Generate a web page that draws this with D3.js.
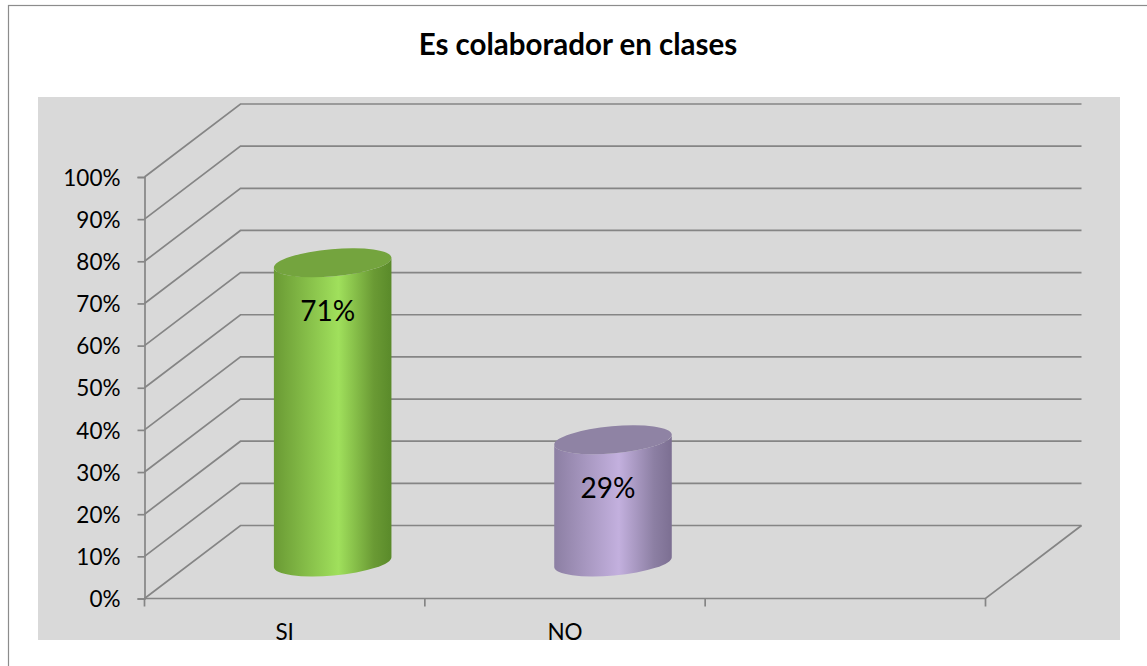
<!DOCTYPE html>
<html>
<head>
<meta charset="utf-8">
<script src="https://cdn.jsdelivr.net/npm/d3@7"></script>
<style>
  body { margin: 0; background: #fff; }
  text { font-family: Lato, "Open Sans", sans-serif; }
</style>
</head>
<body>
<script>
// data
const categories = ['SI', 'NO', ''];
const values = [0.71, 0.29, null];
const labels = ['71%', '29%', ''];
const yTicks = [0, 0.1, 0.2, 0.3, 0.4, 0.5, 0.6, 0.7, 0.8, 0.9, 1];
const title = 'Es colaborador en clases';

const svgWidth = 1147;
const svgHeight = 666;
const plot = { left: 38, top: 97, right: 1120, bottom: 640 };
const depth = { dx: 96, dy: -73 };

const palette = {
    SI: { edge: '#6a9a34', mid: '#a0e05c', dark: '#5a8a2a', top: '#74a43e' },
    NO: { edge: '#8c7fa3', mid: '#c3b0de', dark: '#7c6f92', top: '#8f83a4' }
};

function translate(x, y) {
    return 'translate(' + x + ',' + y + ')';
}

const svg = d3.select('body').append('svg')
    .attr('width', svgWidth)
    .attr('height', svgHeight);

svg.append('rect')
    .attr('x', 8.5).attr('y', 5.5)
    .attr('width', 1160).attr('height', 680)
    .attr('fill', '#fff')
    .attr('stroke', '#8c8c8c')
    .attr('stroke-width', 1.2);

svg.append('text')
    .attr('x', 578).attr('y', 55)
    .attr('text-anchor', 'middle')
    .attr('font-weight', 'bold')
    .attr('font-size', 29.5)
    .text(title);

svg.append('rect')
    .attr('x', plot.left).attr('y', plot.top)
    .attr('width', plot.right - plot.left)
    .attr('height', plot.bottom - plot.top)
    .attr('fill', '#d9d9d9');

svg.append('clipPath').attr('id', 'plotClip')
    .append('rect')
    .attr('x', plot.left).attr('y', plot.top)
    .attr('width', plot.right - plot.left)
    .attr('height', plot.bottom - plot.top);

const xScale = d3.scaleBand()
    .domain(categories)
    .range([144.5, 985.5])
    .paddingInner(0).paddingOuter(0);

const yScale = d3.scaleLinear()
    .domain([0, 1])
    .range([598.5, 177]);

const grid = svg.append('g')
    .attr('fill', 'none')
    .attr('stroke', '#858585')
    .attr('stroke-width', 1.7);

const x0 = xScale.range()[0];
const x1 = xScale.range()[1];

// back wall + side wall lines
yTicks.forEach(t => {
    const yf = yScale(t);
    grid.append('path')
        .attr('d', 'M' + x0 + ',' + yf + 'L' + (x0 + depth.dx) + ',' + (yf + depth.dy) +
            'L' + (x1 + depth.dx) + ',' + (yf + depth.dy));
});

// floor front & right edge
grid.append('path')
    .attr('d', 'M' + x0 + ',' + yScale(0) + 'L' + x1 + ',' + yScale(0) +
        'L' + (x1 + depth.dx) + ',' + (yScale(0) + depth.dy));

// y axis
const yAxis = svg.append('g')
    .attr('transform', translate(x0, 0))
    .call(d3.axisLeft(yScale).tickValues(yTicks).tickFormat(d3.format('.0%')).tickSize(7).tickPadding(17));
yAxis.select('.domain').attr('stroke', '#858585').attr('stroke-width', 1.7);
yAxis.selectAll('.tick line').attr('stroke', '#858585').attr('stroke-width', 1.7);
yAxis.selectAll('.tick text')
    .attr('font-size', 22.5)
    .attr('fill', '#000')
    .attr('dy', '0.36em')
    .style('font-family', 'Lato, sans-serif');

// category boundary ticks
const bounds = categories.map(c => xScale(c)).concat([x1]);
svg.append('g').selectAll('line').data(bounds).enter()
    .append('line')
    .attr('x1', d => d).attr('x2', d => d)
    .attr('y1', yScale(0)).attr('y2', yScale(0) + 8)
    .attr('stroke', '#858585').attr('stroke-width', 1.7);

// category labels (clipped by the plot area, as in the original)
svg.append('g').attr('clip-path', 'url(#plotClip)')
    .selectAll('text').data(categories).enter()
    .append('text')
    .attr('x', d => xScale(d) + xScale.bandwidth() / 2)
    .attr('y', 639.5)
    .attr('text-anchor', 'middle')
    .attr('font-size', 22.5)
    .text(d => d);

// cylinders
const defs = svg.append('defs');
const rx = 59, ry = 13.5, rot = -5;
const rad = rot * Math.PI / 180;
const ex = rx * Math.cos(rad), ey = rx * Math.sin(rad);

const bars = categories.map((c, i) => ({ c, v: values[i], label: labels[i] })).filter(d => d.v != null);

bars.forEach((d, i) => {
    const p = palette[d.c];
    const g = defs.append('linearGradient').attr('id', 'side' + i)
        .attr('x1', 0).attr('x2', 1).attr('y1', 0).attr('y2', 0);
    g.append('stop').attr('offset', '0%').attr('stop-color', p.edge);
    g.append('stop').attr('offset', '55%').attr('stop-color', p.mid);
    g.append('stop').attr('offset', '85%').attr('stop-color', p.edge);
    g.append('stop').attr('offset', '100%').attr('stop-color', p.dark);

    const cx = xScale(d.c) + xScale.bandwidth() / 2 + depth.dx / 2;
    const yb = yScale(0) + depth.dy / 2;
    const yt = yScale(d.v) + depth.dy / 2;

    const bar = svg.append('g');
    const side = 'M' + (cx - ex) + ',' + (yt - ey) +
        'L' + (cx - ex) + ',' + (yb - ey) +
        'A' + rx + ',' + ry + ' ' + rot + ' 0 0 ' + (cx + ex) + ',' + (yb + ey) +
        'L' + (cx + ex) + ',' + (yt + ey) +
        'A' + rx + ',' + ry + ' ' + rot + ' 0 1 ' + (cx - ex) + ',' + (yt - ey) + 'Z';
    bar.append('path').attr('d', side).attr('fill', 'url(#side' + i + ')');
    bar.append('ellipse')
        .attr('cx', 0).attr('cy', 0).attr('rx', rx).attr('ry', ry)
        .attr('transform', translate(cx, yt) + ' rotate(' + rot + ')')
        .attr('fill', p.top);
    bar.append('text')
        .attr('x', cx - 5)
        .attr('y', yt + 58)
        .attr('text-anchor', 'middle')
        .attr('font-size', 28)
        .text(d.label);
});
</script>
</body>
</html>
